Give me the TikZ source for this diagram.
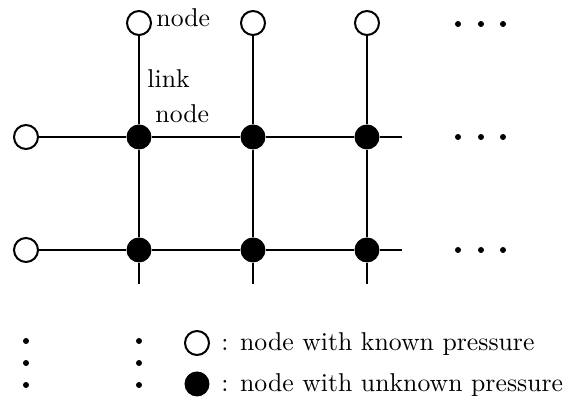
\documentclass[tikz,border=0pt]{standalone}
\begin{document}
\begin{tikzpicture}[x=0.4pt,y=-0.4pt,
  every node/.append style={font=\fontsize{10.3pt}{12pt}\selectfont},
  known/.style={circle,draw,line width=0.8pt,fill=white,minimum size=9.6pt,inner sep=0pt},
  unknown/.style={circle,fill=black,minimum size=10pt,inner sep=0pt},
  ddot/.style={circle,fill=black,minimum size=2.4pt,inner sep=0pt},
  link/.style={line width=0.8pt},
  lbl/.style={anchor=base west,inner sep=0pt}]
\useasboundingbox (0,0) rectangle (576,397);

% boundary nodes (known pressure)
\node[known] (t1) at (139,23) {};
\node[known] (t2) at (253,23) {};
\node[known] (t3) at (367,23) {};
\node[known] (l1) at (26,137) {};
\node[known] (l2) at (26,250) {};

% interior nodes (unknown pressure)
\foreach \c/\x in {1/139,2/253,3/367}{
  \node[unknown] (a\c) at (\x,137) {};
  \node[unknown] (b\c) at (\x,250) {};
  \coordinate (d\c) at (\x,284);
}
\coordinate (e1) at (402,137);
\coordinate (e2) at (402,250);

% links
\foreach \c in {1,2,3}{
  \draw[link] (t\c) -- (a\c);
  \draw[link] (a\c) -- (b\c);
  \draw[link] (b\c) -- (d\c);
}
\draw[link] (l1) -- (a1) -- (a2) -- (a3) -- (e1);
\draw[link] (l2) -- (b1) -- (b2) -- (b3) -- (e2);

% continuation dots
\foreach \y/\r in {24/1,137/2,250/3}{
  \node[ddot] (h\r a) at (458,\y) {};
  \node[ddot] (h\r b) at (481,\y) {};
  \node[ddot] (h\r c) at (503,\y) {};
}
\foreach \x/\r in {26/1,139/2}{
  \node[ddot] (v\r a) at (\x,341) {};
  \node[ddot] (v\r b) at (\x,363) {};
  \node[ddot] (v\r c) at (\x,385) {};
}

% labels
\node[lbl] (lab1) at (156,27) {node};
\node[lbl] (lab2) at (147,88) {link};
\node[lbl] (lab3) at (155,123) {node};

% legend
\node[known] (k) at (197,343) {};
\node[lbl] (kt) at (221,351) {: node with known pressure};
\node[unknown] (u) at (197,384) {};
\node[lbl] (ut) at (221,392) {: node with unknown pressure};
\end{tikzpicture}
\end{document}
